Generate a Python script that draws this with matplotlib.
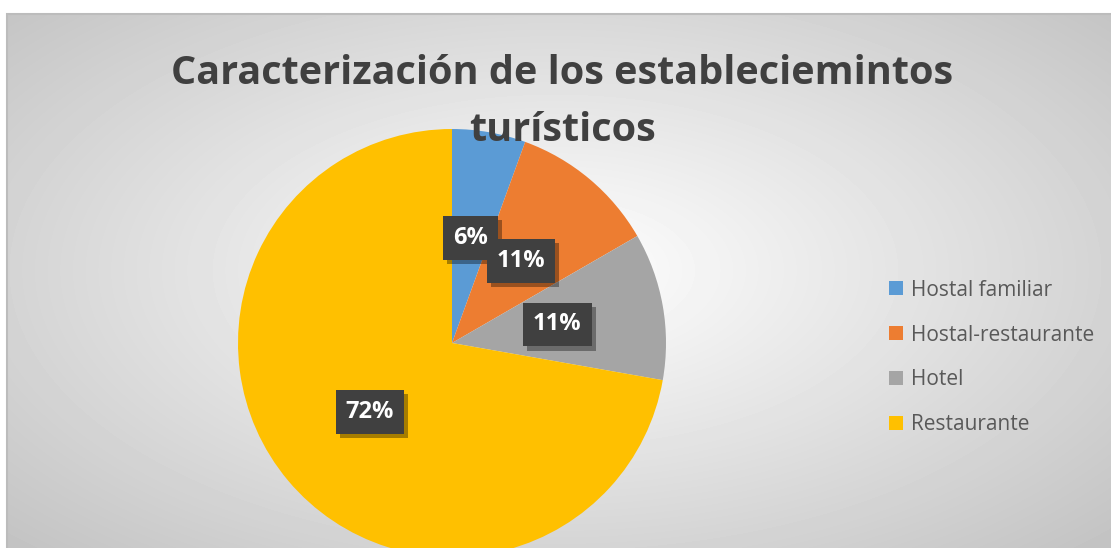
import matplotlib
matplotlib.use("Agg")
import matplotlib.pyplot as plt
import matplotlib.patheffects as pe
import numpy as np
from matplotlib.patches import Rectangle

categories = ["Hostal familiar", "Hostal-restaurante", "Hotel", "Restaurante"]
counts = [1, 2, 2, 13]
colors = ["#5B9BD5", "#ED7D31", "#A5A5A5", "#FFC000"]
title_lines = ["Caracterización de los estableciemintos", "turísticos"]

W, H = 1111, 548
plt.rcParams["font.family"] = ["Open Sans", "DejaVu Sans"]

fig = plt.figure(figsize=(W / 100, H / 100), dpi=100)
fig.patch.set_facecolor("white")

# chart area with radial grey gradient
x0, top = 7, 14
bg = fig.add_axes([x0 / W, 0, 1 - x0 / W, 1 - top / H])
bg.set_axis_off()
gw, gh = W - x0, H - top
yy, xx = np.mgrid[0:gh, 0:gw]
cx, cy = 555 - x0, 270 - top
d = np.sqrt(((xx - cx) / 780.0) ** 2 + ((yy - cy) / 400.0) ** 2)
shade = 1.0 - 0.24 * np.clip(d, 0, 1)
bg.imshow(shade, cmap="gray", vmin=0, vmax=1, aspect="auto", interpolation="bilinear")
fig.add_artist(Rectangle((x0 / W, -0.01), 1.0, 1 - top / H + 0.01, transform=fig.transFigure,
                         fill=False, edgecolor="#bcbcbc", linewidth=1.5))

# pie
cxp, cyp, r = 452, 343, 214
ax = fig.add_axes([(cxp - r) / W, (H - cyp - r) / H, 2 * r / W, 2 * r / H])
wedges, texts, autotexts = ax.pie(
    counts, colors=colors, startangle=90, counterclock=False, radius=1.0,
    autopct="%1.0f%%", pctdistance=0.5,
    textprops=dict(color="white", fontsize=17, fontweight="bold"),
)
ax.set_xlim(-1, 1)
ax.set_ylim(-1, 1)
ax.set_aspect("equal")
for w in wedges:
    w.set_clip_on(False)
for t in autotexts:
    t.set_bbox(dict(boxstyle="square,pad=0.42", facecolor="#404040", edgecolor="none"))
    t.get_bbox_patch().set_path_effects(
        [pe.SimplePatchShadow(offset=(3, -3), shadow_rgbFace="#000000", alpha=0.35), pe.Normal()]
    )

# title
fig.text(562 / W, 1 - 84 / H, title_lines[0], ha="center", va="baseline",
         fontsize=28.5, fontweight="bold", color="#404040")
fig.text(562 / W, 1 - 141 / H, title_lines[1], ha="center", va="baseline",
         fontsize=28.5, fontweight="bold", color="#404040")

# legend
fig.legend(wedges, categories, loc="center left", bbox_to_anchor=(889 / W, 1 - 357.5 / H),
           frameon=False, fontsize=15, labelcolor="#595959",
           handlelength=0.68, handleheight=0.68, handletextpad=0.38,
           labelspacing=1.15, borderpad=0, borderaxespad=0)

fig.savefig("out.png", dpi=100)
